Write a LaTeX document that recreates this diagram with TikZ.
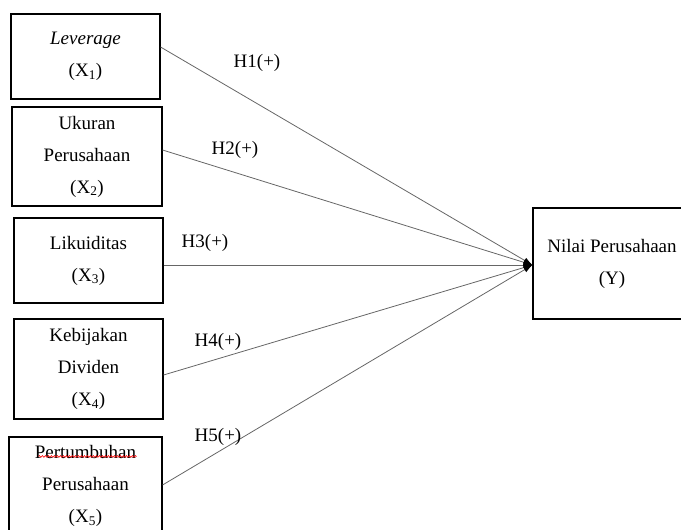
\documentclass[tikz,border=0pt]{standalone}
\usepackage{fontspec}
\setmainfont{Liberation Serif}
\usepackage{tikz}
\usetikzlibrary{arrows.meta,decorations.pathmorphing}

\begin{document}
\begin{tikzpicture}[x=1pt, y=-1pt,
        box/.style={rectangle, draw=black, line width=1.1pt, align=center, inner xsep=1pt, font=\fontsize{19}{32}\selectfont},
        hyp/.style={font=\fontsize{19}{22}\selectfont},
        link/.style={-{Latex[length=9pt,width=6pt,color=black]}, draw=black!60, line width=0.8pt}]
            \useasboundingbox (0,0) rectangle (681,530);
            \node[box, minimum width=149pt, minimum height=85pt] (x1) at (85.5, 56.5) {\textit{Leverage}\\(X\textsubscript{1})};
            \node[box, minimum width=150pt, minimum height=99pt] (x2) at (87, 156.5) {Ukuran\\Perusahaan\\(X\textsubscript{2})};
            \node[box, minimum width=149pt, minimum height=85pt] (x3) at (88.5, 260.5) {Likuiditas\\(X\textsubscript{3})};
            \node[box, minimum width=149pt, minimum height=100pt] (x4) at (88.5, 369) {Kebijakan\\Dividen\\(X\textsubscript{4})};
            \node[box, minimum width=153pt, minimum height=98pt] (x5) at (85.5, 486) {Pertumbuhan\\Perusahaan\\(X\textsubscript{5})};
            \node[box, minimum width=158pt, minimum height=111pt] (y) at (612, 263.5) {Nilai Perusahaan\\(Y)};
            \draw[red, line width=0.6pt, decorate, decoration={snake, amplitude=0.9pt, segment length=3pt}]
                ([xshift=-47pt, yshift=-20pt]x5.north) -- ([xshift=51pt, yshift=-20pt]x5.north);
            \draw[link] ([yshift=9.5pt]x1.east) -- ([yshift=-1.5pt]y.west);
            \draw[link] ([yshift=6.5pt]x2.east) -- ([yshift=-1.5pt]y.west);
            \draw[link] ([yshift=-4.5pt]x3.east) -- ([yshift=-1.5pt]y.west);
            \draw[link] ([yshift=-6pt]x4.east) -- ([yshift=-1.5pt]y.west);
            \draw[link] ([yshift=1pt]x5.east) -- ([yshift=-1.5pt]y.west);
            \node[hyp] (h1) at (257, 63) {H1(+)};
            \node[hyp] (h2) at (235, 150) {H2(+)};
            \node[hyp] (h3) at (205, 243) {H3(+)};
            \node[hyp] (h4) at (218, 342) {H4(+)};
            \node[hyp] (h5) at (218, 437) {H5(+)};
        \end{tikzpicture}
\end{document}
